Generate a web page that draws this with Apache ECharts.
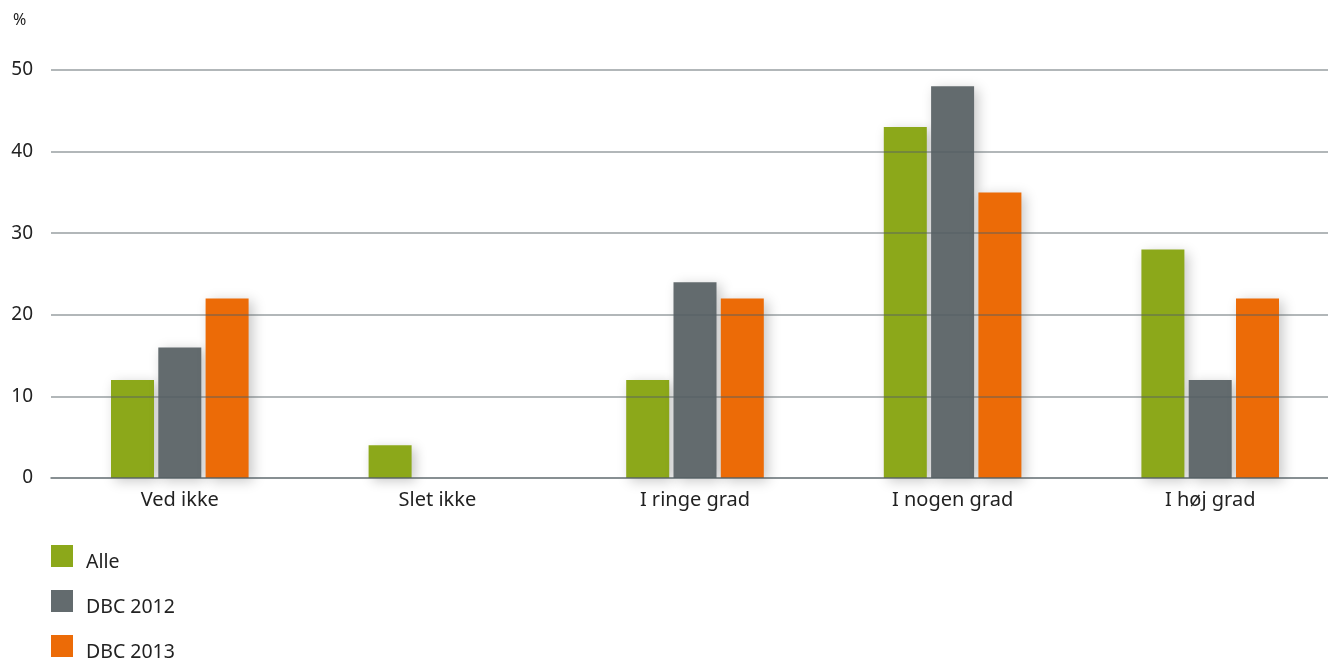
<!DOCTYPE html>
<html>
<head>
<meta charset="utf-8">
<script src="https://cdn.jsdelivr.net/npm/echarts@6/dist/echarts.min.js"></script>
<style>
html, body { margin: 0; padding: 0; background: #fff; overflow: hidden; }
#chart { width: 1339px; height: 659px; }
</style>
</head>
<body>
<div id="chart"></div>
<script>
var categories = ['Ved ikke', 'Slet ikke', 'I ringe grad', 'I nogen grad', 'I høj grad'];
var alle = [12, 4, 12, 43, 28];
var dbc2012 = [16, 0, 24, 48, 12];
var dbc2013 = [22, 0, 22, 35, 22];
var seriesNames = ['Alle', 'DBC 2012', 'DBC 2013'];

var fontName = 'Noto Sans';
var gridColor = 'rgba(85, 95, 100, 0.45)';

var chart = echarts.init(document.getElementById('chart'));

function barSeries(name, data) {
    return {
        name: name,
        type: 'bar',
        barWidth: 43,
        barGap: '10%',
        data: data,
        itemStyle: {
            shadowBlur: 12,
            shadowColor: 'rgba(0, 0, 0, 0.22)',
            shadowOffsetX: 4,
            shadowOffsetY: 3
        }
    };
}

var option = {
    animation: false,
    color: ['#8ca81a', '#636b6e', '#ec6b07'],
    textStyle: { fontFamily: fontName },
    grid: {
        left: 51,
        right: 0,
        top: 70,
        bottom: 181,
        containLabel: false
    },
    legend: {
        data: seriesNames,
        orient: 'vertical',
        left: 51,
        top: 545,
        height: 140,
        padding: 0,
        itemWidth: 22,
        itemHeight: 22,
        itemGap: 18,
        icon: 'rect',
        formatter: '{t|{name}}',
        textStyle: {
            color: '#222',
            fontFamily: fontName,
            rich: {
                t: { fontSize: 19.5, color: '#222', fontFamily: fontName, padding: [12, 0, 0, 8] }
            }
        }
    },
    xAxis: [{
        type: 'category',
        data: categories,
        z: 5,
        axisTick: { show: false },
        axisLine: { lineStyle: { color: gridColor, width: 2 } },
        axisLabel: { fontSize: 20, color: '#222', margin: 12 }
    }],
    yAxis: [{
        type: 'value',
        min: 0,
        max: 50,
        interval: 10,
        z: 5,
        name: '%',
        nameLocation: 'end',
        nameGap: 42,
        nameTextStyle: { fontSize: 16, color: '#222', align: 'left', padding: [0, 0, 0, -38] },
        axisLine: { show: false },
        axisTick: { show: false },
        axisLabel: { fontSize: 19, color: '#222', margin: 18 },
        splitLine: { lineStyle: { color: gridColor, width: 2 } }
    }],
    series: [
        barSeries(seriesNames[0], alle),
        barSeries(seriesNames[1], dbc2012),
        barSeries(seriesNames[2], dbc2013)
    ]
};

chart.setOption(option);
</script>
</body>
</html>
